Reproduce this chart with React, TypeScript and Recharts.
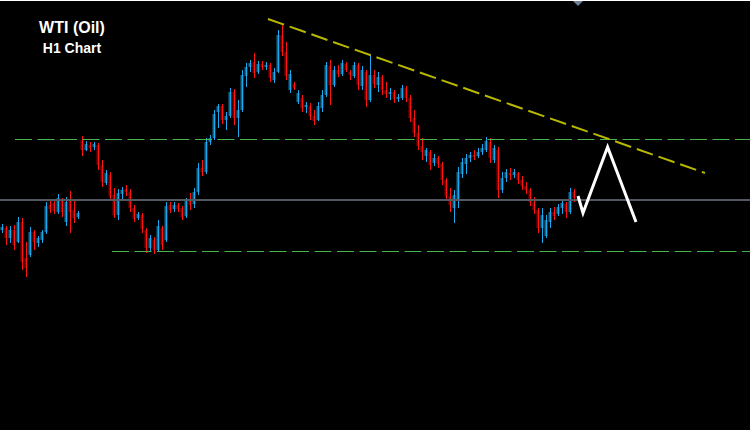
import React from "react";
import { ComposedChart, Bar, Line, XAxis, YAxis, ReferenceLine } from "recharts";

// H1 candles, oldest first (price in USD)
const opens = [
  67.70, 67.72, 67.62, 67.70, 67.58, 67.78, 67.42, 67.45, 67.68, 67.57,
  67.60, 67.68, 67.95, 67.97, 67.88, 68.00, 67.78, 68.00, 67.90, 67.83,
  68.60, 68.50, 68.55, 68.53, 68.55, 68.35, 68.17, 68.25, 68.05, 67.85,
  68.06, 68.11, 68.08, 67.92, 67.82, 67.85, 67.70, 67.52, 67.60, 67.50,
  67.72, 67.60, 67.95, 67.91, 67.95, 67.92, 67.84, 68.00, 67.96, 68.08,
  68.32, 68.28, 68.58, 68.62, 68.88, 68.94, 68.80, 68.84, 69.08, 68.82,
  68.90, 69.24, 69.33, 69.38, 69.28, 69.36, 69.33, 69.35, 69.20, 69.28,
  69.65, 69.48, 69.10, 69.16, 68.98, 69.02, 68.93, 68.94, 68.84, 68.80,
  68.92, 69.05, 69.34, 69.15, 69.30, 69.26, 69.36, 69.28, 69.24, 69.35,
  69.14, 69.28, 69.00, 69.25, 69.15, 69.23, 69.10, 69.06, 69.08, 69.01,
  69.02, 69.12, 69.02, 68.82, 68.67, 68.54, 68.44, 68.48, 68.37, 68.42,
  68.36, 68.20, 68.04, 67.92, 68.00, 68.26, 68.36, 68.42, 68.45, 68.44,
  68.48, 68.50, 68.58, 68.40, 68.50, 68.10, 68.22, 68.27, 68.25, 68.27,
  68.20, 68.14, 68.10, 67.98, 67.90, 67.72, 67.64, 67.78, 67.88, 67.86,
  67.92, 67.96, 67.88, 68.08,
];
const highs = [
  67.76, 67.74, 67.74, 67.75, 67.83, 67.82, 67.58, 67.73, 67.70, 67.64,
  67.70, 67.98, 67.99, 68.00, 68.06, 68.02, 68.03, 68.09, 68.01, 67.89,
  68.64, 68.59, 68.58, 68.58, 68.57, 68.40, 68.30, 68.28, 68.12, 68.11,
  68.13, 68.15, 68.11, 67.95, 67.88, 67.87, 67.72, 67.65, 67.63, 67.80,
  67.74, 67.98, 67.98, 67.98, 67.97, 67.94, 68.02, 68.07, 68.12, 68.37,
  68.40, 68.62, 68.65, 68.90, 68.96, 68.96, 68.88, 69.12, 69.11, 69.00,
  69.30, 69.37, 69.40, 69.47, 69.39, 69.39, 69.38, 69.37, 69.32, 69.70,
  69.76, 69.58, 69.30, 69.18, 69.10, 69.05, 68.98, 68.97, 68.90, 68.98,
  69.10, 69.38, 69.40, 69.34, 69.35, 69.40, 69.38, 69.30, 69.38, 69.37,
  69.34, 69.30, 69.45, 69.30, 69.28, 69.25, 69.18, 69.12, 69.10, 69.06,
  69.15, 69.14, 69.05, 68.90, 68.75, 68.62, 68.52, 68.50, 68.46, 68.44,
  68.38, 68.22, 68.12, 68.10, 68.33, 68.42, 68.46, 68.48, 68.50, 68.52,
  68.56, 68.63, 68.62, 68.55, 68.53, 68.28, 68.31, 68.32, 68.31, 68.28,
  68.24, 68.18, 68.12, 68.03, 67.92, 67.92, 67.85, 67.92, 67.93, 67.96,
  68.00, 67.98, 68.12, 68.11,
];
const lows = [
  67.67, 67.55, 67.57, 67.50, 67.57, 67.30, 67.23, 67.43, 67.50, 67.53,
  67.57, 67.66, 67.87, 67.86, 67.86, 67.83, 67.74, 67.67, 67.77, 67.81,
  68.44, 68.49, 68.48, 68.50, 68.30, 68.13, 68.15, 68.00, 67.82, 67.80,
  68.00, 68.04, 67.88, 67.78, 67.80, 67.67, 67.47, 67.48, 67.46, 67.48,
  67.50, 67.58, 67.87, 67.88, 67.88, 67.80, 67.82, 67.90, 67.92, 68.05,
  68.24, 68.26, 68.55, 68.60, 68.72, 68.76, 68.70, 68.82, 68.75, 68.63,
  68.88, 69.13, 69.28, 69.22, 69.26, 69.30, 69.30, 69.18, 69.17, 69.27,
  69.44, 69.20, 69.07, 69.10, 68.96, 68.88, 68.87, 68.80, 68.75, 68.79,
  68.88, 69.03, 68.95, 69.13, 69.23, 69.24, 69.28, 69.20, 69.22, 69.10,
  69.10, 68.93, 68.98, 69.12, 69.08, 69.05, 69.02, 69.00, 68.97, 68.98,
  69.00, 68.98, 68.78, 68.63, 68.50, 68.40, 68.38, 68.30, 68.34, 68.32,
  68.15, 68.00, 67.88, 67.77, 67.92, 68.22, 68.26, 68.38, 68.40, 68.42,
  68.45, 68.48, 68.37, 68.37, 68.02, 68.07, 68.18, 68.20, 68.22, 68.16,
  68.10, 68.06, 67.94, 67.86, 67.67, 67.57, 67.62, 67.72, 67.80, 67.84,
  67.86, 67.82, 67.86, 67.98,
];
const closes = [
  67.73, 67.62, 67.70, 67.55, 67.78, 67.38, 67.32, 67.68, 67.58, 67.62,
  67.68, 67.94, 67.91, 67.89, 68.02, 67.88, 67.98, 67.88, 67.82, 67.87,
  68.50, 68.56, 68.52, 68.56, 68.35, 68.18, 68.27, 68.04, 67.85, 68.07,
  68.10, 68.08, 67.92, 67.81, 67.86, 67.71, 67.52, 67.62, 67.50, 67.74,
  67.55, 67.94, 67.90, 67.95, 67.91, 67.83, 67.99, 67.95, 68.08, 68.32,
  68.28, 68.58, 68.62, 68.86, 68.94, 68.80, 68.84, 69.08, 68.82, 68.90,
  69.25, 69.33, 69.37, 69.27, 69.36, 69.33, 69.35, 69.22, 69.28, 69.65,
  69.48, 69.24, 69.26, 69.12, 69.07, 68.92, 68.95, 68.84, 68.79, 68.94,
  69.05, 69.35, 69.15, 69.30, 69.26, 69.37, 69.30, 69.25, 69.35, 69.15,
  69.30, 69.00, 69.25, 69.16, 69.23, 69.10, 69.06, 69.08, 69.01, 69.03,
  69.12, 69.02, 68.82, 68.67, 68.54, 68.48, 68.50, 68.35, 68.42, 68.36,
  68.20, 68.04, 67.95, 68.05, 68.28, 68.38, 68.42, 68.45, 68.43, 68.48,
  68.52, 68.59, 68.42, 68.52, 68.10, 68.22, 68.28, 68.25, 68.28, 68.20,
  68.14, 68.10, 67.98, 67.90, 67.72, 67.85, 67.80, 67.88, 67.84, 67.93,
  67.97, 67.88, 68.08, 68.02,
];

// key levels
const resistance = 68.605;
const pivot = 68.0;
const support = 67.485;
const resistanceFrom = 3.75;
const supportFrom = 28;

// falling trendline (bar index, price)
const trendX = [67, 176.25];
const trendP = [69.81, 68.27];

// projected path drawn after the last candle
const projX = [144.5, 145.75, 151.9, 159];
const projP = [68.04, 67.87, 68.53, 67.78];

const candles = opens.map((o, i) => ({
  x: i + 0.5,
  open: o,
  high: highs[i],
  low: lows[i],
  close: closes[i],
}));
const projection = projX.map((x, i) => ({ x, p: projP[i] }));

const W = 750;
const H = 430;

function Candle(props: any) {
  const { x, y, width, height, payload } = props;
  if (!payload || payload.high == null || x == null || y == null) return null;
  const top = Math.min(y, y + height);
  const bot = Math.max(y, y + height);
  const span = payload.high - payload.low || 1;
  const py = (p: number) => top + ((payload.high - p) / span) * (bot - top);
  const up = payload.close >= payload.open;
  const cx = Math.round(x + width / 2);
  const y1 = py(Math.max(payload.open, payload.close));
  const y2 = py(Math.min(payload.open, payload.close));
  return (
    <g>
      <rect
        x={cx - 1.5}
        y={y1}
        width={3}
        height={Math.max(1, y2 - y1)}
        fill={up ? "#176b92" : "#8e0000"}
      />
      <line
        x1={cx + 0.5}
        x2={cx + 0.5}
        y1={top}
        y2={Math.max(bot, top + 1)}
        stroke={up ? "#1aa9ef" : "#ff1212"}
        strokeWidth={1}
      />
    </g>
  );
}

export default function App() {
  return (
    <div style={{ position: "absolute", left: 0, top: 0, width: W, height: H, background: "#000" }}>
      <ComposedChart
        width={W}
        height={H}
        data={candles}
        margin={{ top: 0, right: 0, bottom: 0, left: 0 }}
      >
        <XAxis type="number" dataKey="x" domain={[0, 187.5]} hide allowDataOverflow />
        <YAxis type="number" domain={[65.7, 70]} hide allowDataOverflow />
        <ReferenceLine y={pivot} stroke="#535962" strokeWidth={2} />
        <ReferenceLine
          segment={[{ x: resistanceFrom, y: resistance }, { x: 187.5, y: resistance }]}
          stroke="#45b54f"
          strokeDasharray="17 5.5"
        />
        <ReferenceLine
          segment={[{ x: supportFrom, y: support }, { x: 187.5, y: support }]}
          stroke="#45b54f"
          strokeDasharray="17 5.5"
        />
        <Bar
          dataKey={(d: any) => [d.low, d.high]}
          barSize={3}
          shape={<Candle />}
          isAnimationActive={false}
        />
        <ReferenceLine
          segment={[{ x: trendX[0], y: trendP[0] }, { x: trendX[1], y: trendP[1] }]}
          stroke="#b8b800"
          strokeWidth={2}
          strokeDasharray="17 6"
        />
        <Line
          data={projection}
          dataKey="p"
          type="linear"
          stroke="#ffffff"
          strokeWidth={3}
          dot={false}
          activeDot={false}
          isAnimationActive={false}
        />
      </ComposedChart>
      <svg
        width={W}
        height={H}
        style={{ position: "absolute", left: 0, top: 0, pointerEvents: "none" }}
      >
        <line x1={0} x2={W} y1={0.5} y2={0.5} stroke="#ffffff" />
        <polygon points="573,1 583,1 578,6" fill="#6d8299" />
        <text
          x={72}
          y={33}
          textAnchor="middle"
          fill="#ffffff"
          fontFamily="'Liberation Sans', Arial, sans-serif"
          fontWeight="bold"
          fontSize={16}
        >
          WTI (Oil)
        </text>
        <text
          x={72}
          y={53}
          textAnchor="middle"
          fill="#ffffff"
          fontFamily="'Liberation Sans', Arial, sans-serif"
          fontWeight="bold"
          fontSize={14}
        >
          H1 Chart
        </text>
      </svg>
    </div>
  );
}
